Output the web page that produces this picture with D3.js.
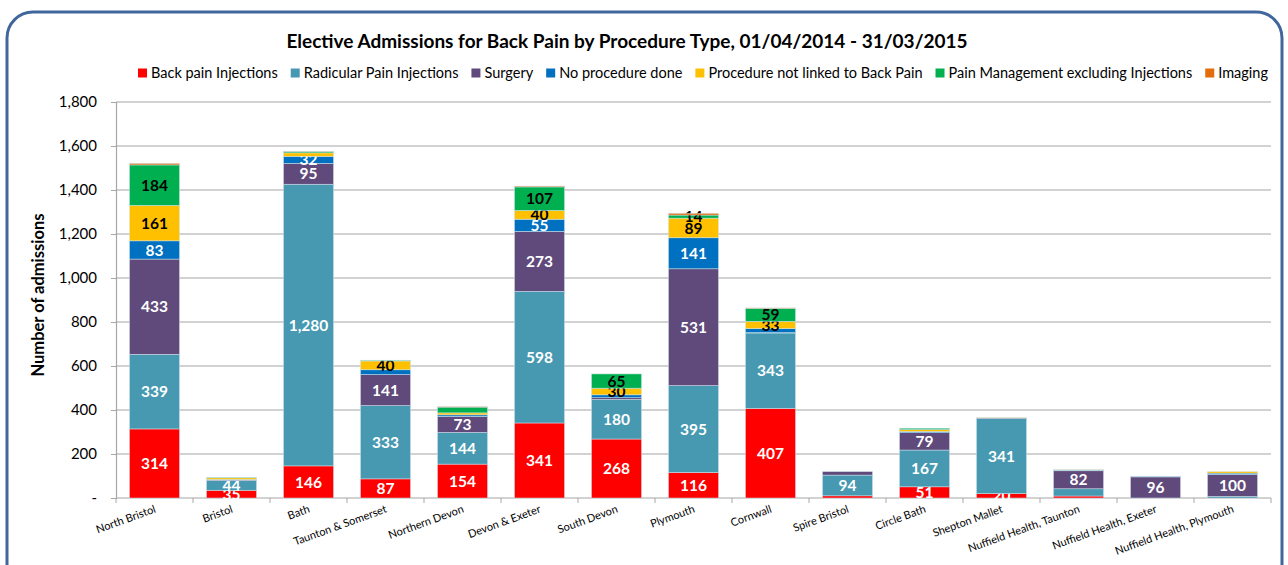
<!DOCTYPE html>
<html>
<head>
<meta charset="utf-8">
<script src="https://cdn.jsdelivr.net/npm/d3@7"></script>
<style>
  body { margin: 0; background: #fff; }
  text { font-family: Lato, "Open Sans", sans-serif; }
</style>
</head>
<body>
<div id="chart"></div>
<script>
// data
var categories = ["North Bristol", "Bristol", "Bath", "Taunton & Somerset", "Northern Devon",
  "Devon & Exeter", "South Devon", "Plymouth", "Cornwall", "Spire Bristol", "Circle Bath",
  "Shepton Mallet", "Nuffield Health, Taunton", "Nuffield Health, Exeter", "Nuffield Health, Plymouth"];

var seriesNames = ["Back pain Injections", "Radicular Pain Injections", "Surgery", "No procedure done",
  "Procedure not linked to Back Pain", "Pain Management excluding Injections", "Imaging"];

var backPainInjections = [314, 35, 146, 87, 154, 341, 268, 116, 407, 10, 51, 20, 9, 0, 0];
var radicularInjections = [339, 44, 1280, 333, 144, 598, 180, 395, 343, 94, 167, 341, 33, 0, 7];
var surgery = [433, 3, 95, 141, 73, 273, 8, 531, 2, 16, 79, 3, 82, 96, 100];
var noProcedure = [83, 2, 32, 22, 7, 55, 13, 141, 18, 0, 5, 0, 3, 2, 6];
var notLinked = [161, 8, 16, 40, 9, 40, 30, 89, 33, 0, 9, 1, 2, 0, 7];
var painManagement = [184, 2, 6, 3, 26, 107, 65, 14, 59, 0, 6, 0, 0, 0, 0];
var imaging = [7, 0, 1, 0, 2, 4, 0, 8, 2, 0, 0, 0, 0, 0, 0];

var yTicks = [0, 200, 400, 600, 800, 1000, 1200, 1400, 1600, 1800];

// labels under 30 that are still shown, and ones the original leaves out
var extraLabels = ["Plymouth|Pain Management excluding Injections", "Shepton Mallet|Back pain Injections"];
var hiddenLabels = ["Nuffield Health, Taunton|Radicular Pain Injections"];

var colours = ["#FF0000", "#4699B1", "#5F4A7B", "#0070C0", "#FFC000", "#00B050", "#E46C0A"];
var darkText = ["Procedure not linked to Back Pain", "Pain Management excluding Injections"];

var seriesValues = [backPainInjections, radicularInjections, surgery, noProcedure, notLinked, painManagement, imaging];

var width = 1288, height = 565;

var rows = categories.map(function (c, i) {
  var r = { category: c };
  seriesNames.forEach(function (s, j) { r[s] = seriesValues[j][i]; });
  return r;
});

var svg = d3.select("#chart").append("svg")
  .attr("width", width)
  .attr("height", height);

// rounded frame
svg.append("rect")
  .attr("x", 7).attr("y", 12)
  .attr("width", 1275).attr("height", 580)
  .attr("rx", 26).attr("ry", 26)
  .attr("fill", "#fff")
  .attr("stroke", "#41669C")
  .attr("stroke-width", 3);

var x = d3.scaleBand().domain(categories).range([116, 1271]).paddingInner(0.35).paddingOuter(0.175);
var y = d3.scaleLinear().domain([0, 1800]).range([498, 102]);

// gridlines
svg.append("g")
  .selectAll("line")
  .data(yTicks.slice(1))
  .enter()
  .append("line")
  .attr("x1", 116).attr("x2", 1271)
  .attr("y1", function (d) { return y(d); })
  .attr("y2", function (d) { return y(d); })
  .attr("stroke", "#A6A6A6")
  .attr("stroke-width", 1.2);

// y axis
var yAxis = svg.append("g")
  .attr("transform", "translate(116,0)")
  .call(d3.axisLeft(y).tickValues(yTicks).tickSize(5).tickPadding(14)
    .tickFormat(function (d) { return d === 0 ? "-" : d3.format(",")(d); }));
yAxis.select(".domain").attr("stroke", "#A6A6A6").attr("stroke-width", 1.2);
yAxis.selectAll(".tick line").attr("stroke", "#A6A6A6");
yAxis.selectAll(".tick text").attr("font-size", 15).attr("fill", "#000")
  .style("font-family", "Lato, sans-serif");

// x axis baseline and ticks between categories
svg.append("line")
  .attr("x1", 116).attr("x2", 1271).attr("y1", 498).attr("y2", 498)
  .attr("stroke", "#A6A6A6").attr("stroke-width", 1.2);
svg.append("g")
  .selectAll("line")
  .data(d3.range(categories.length + 1))
  .enter()
  .append("line")
  .attr("x1", function (i) { return 116 + i * x.step(); })
  .attr("x2", function (i) { return 116 + i * x.step(); })
  .attr("y1", 498).attr("y2", 503)
  .attr("stroke", "#A6A6A6");

// stacked bars
var stack = d3.stack().keys(seriesNames)(rows);

var layers = svg.append("g")
  .selectAll("g")
  .data(stack)
  .enter()
  .append("g")
  .attr("fill", function (d, i) { return colours[i]; });

layers.selectAll("rect")
  .data(function (d) { return d; })
  .enter()
  .append("rect")
  .attr("x", function (d) { return x(d.data.category); })
  .attr("width", x.bandwidth())
  .attr("y", function (d) { return y(d[1]); })
  .attr("height", function (d) { return y(d[0]) - y(d[1]); })
  .attr("stroke", "rgba(210,230,240,0.7)")
  .attr("stroke-width", function (d) { return d[1] > d[0] ? 0.7 : 0; });

// data labels
layers.each(function (layer) {
  var name = layer.key;
  d3.select(this).selectAll("text")
    .data(layer.filter(function (d) {
      var v = d[1] - d[0];
      var key = d.data.category + "|" + name;
      if (hiddenLabels.indexOf(key) >= 0) return false;
      return v >= 30 || extraLabels.indexOf(key) >= 0;
    }))
    .enter()
    .append("text")
    .attr("x", function (d) { return x(d.data.category) + x.bandwidth() / 2; })
    .attr("y", function (d) { return (y(d[0]) + y(d[1])) / 2; })
    .attr("dy", "0.36em")
    .attr("text-anchor", "middle")
    .attr("font-size", 15.5)
    .attr("font-weight", "bold")
    .attr("fill", darkText.indexOf(name) >= 0 ? "#000" : "#fff")
    .text(function (d) { return d3.format(",")(d[1] - d[0]); });
});

// category labels
svg.append("g")
  .selectAll("text")
  .data(categories)
  .enter()
  .append("text")
  .attr("transform", function (d) {
    return "translate(" + (x(d) + x.bandwidth() / 2 + 2) + ",512) rotate(-20)";
  })
  .attr("text-anchor", "end")
  .attr("font-size", 11)
  .attr("fill", "#000")
  .text(function (d) { return d; });

// y axis title
svg.append("text")
  .attr("transform", "translate(44,295) rotate(-90)")
  .attr("text-anchor", "middle")
  .attr("font-size", 16.5)
  .attr("font-weight", "bold")
  .text("Number of admissions");

// title
svg.append("text")
  .attr("x", 627).attr("y", 48)
  .attr("text-anchor", "middle")
  .attr("font-size", 19)
  .attr("font-weight", "bold")
  .text("Elective Admissions for Back Pain by Procedure Type, 01/04/2014 - 31/03/2015");

// legend, laid out from measured text widths and centred
var legend = svg.append("g");
var lx = 0;
seriesNames.forEach(function (s, i) {
  var item = legend.append("g").attr("transform", "translate(" + lx + ",0)");
  item.append("rect").attr("x", 0).attr("y", -9.5).attr("width", 9).attr("height", 9).attr("fill", colours[i]);
  var t = item.append("text").attr("x", 13).attr("y", 0).attr("font-size", 14.5).text(s);
  lx += 13 + t.node().getComputedTextLength() + 13;
});
legend.attr("transform", "translate(" + (703 - (lx - 13) / 2) + ",78)");
</script>
</body>
</html>
